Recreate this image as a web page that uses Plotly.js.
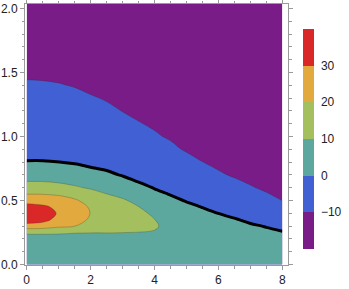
<!DOCTYPE html>
<html><head><meta charset="utf-8">
<script src="https://cdn.plot.ly/plotly-3.0.1.min.js"></script>
<style>html,body{margin:0;padding:0;background:#fff}</style>
</head><body><div id="chart" style="width:349px;height:289px"></div>
<script>
// grid positions
const xVals = [0, 0.5, 1, 1.5, 2, 2.5, 3, 3.5, 4, 4.5, 5, 5.5, 6, 6.5, 7, 7.5, 8];
const yVals = [0, 0.1, 0.2, 0.25, 0.3, 0.35, 0.4, 0.45, 0.5, 0.55, 0.6, 0.65, 0.7, 0.8, 0.9, 1.0, 1.2, 1.4, 1.6, 1.8, 2.05];
// z values, one column per x value (y from bottom to top)
const zX0   = [6, 7, 8.5, 10.6, 26.3, 35.5, 38, 34, 26, 19.9, 15, 9.9, 7, 0.6, -5, -6.5, -8.3, -9.75, -10.9, -11.8, -12.5];
const zX0_5 = [6, 7, 8.5, 10.6, 25.5, 33, 35.5, 32, 25, 19.8, 14.5, 9.8, 6.8, 0.6, -5, -6.5, -8.3, -9.8, -10.9, -11.9, -12.6];
const zX1   = [6, 7, 8.5, 10.5, 22, 27, 29, 27.5, 23.5, 19, 13.5, 8.8, 6, 0.1, -5.2, -6.8, -8.6, -9.9, -11, -12, -12.7];
const zX1_5 = [6, 7, 8.5, 10.2, 20.1, 23, 24.5, 23.5, 21, 17, 11.2, 7.5, 5, -0.8, -5.5, -7, -8.9, -10.1, -11.2, -12.1, -12.8];
const zX2   = [6, 7, 8.5, 10.1, 17, 19, 19.8, 19.2, 17, 13.5, 9, 6, 3.5, -2.3, -6, -7.5, -9.3, -10.4, -11.4, -12.3, -12.9];
const zX2_5 = [6, 7, 8.5, 10.1, 14.5, 16.2, 16.4, 15.2, 13, 10.1, 7, 4.5, 1.8, -3.5, -6.5, -8, -9.6, -10.7, -11.6, -12.4, -13];
const zX3   = [6, 7, 8.5, 10.05, 12.8, 14, 13.8, 12.6, 10.8, 8.3, 5.6, 3, -0.6, -4.8, -7.2, -8.6, -10.05, -11, -11.8, -12.5, -13.1];
const zX3_5 = [6, 7, 8.5, 9.9, 11.8, 12.3, 11.7, 10.1, 8.2, 6, 3.5, -0.5, -2.6, -6, -8, -9.1, -10.6, -11.4, -12.1, -12.7, -13.2];
const zX4   = [6, 7, 8.4, 9.6, 10.7, 10.1, 8.8, 7, 5, 2.6, -0.6, -2.6, -4.2, -7, -8.8, -9.7, -11, -11.8, -12.4, -12.9, -13.3];
const zX4_5 = [5.8, 6.6, 7.6, 8, 8.1, 7.6, 6.4, 4.7, 2.3, -0.5, -2.6, -4.2, -5.6, -7.9, -9.4, -10.3, -11.5, -12.2, -12.7, -13.1, -13.4];
const zX5   = [5.5, 6.1, 6.6, 6.7, 6.5, 5.8, 4.4, 2.3, -0.6, -2.8, -4.4, -5.8, -7, -9, -10.3, -11, -12, -12.6, -13, -13.3, -13.5];
const zX5_5 = [5.1, 5.5, 5.7, 5.5, 5.0, 4.0, 2.3, -0.3, -2.4, -4.2, -5.6, -6.9, -8.1, -9.95, -11.3, -11.8, -12.6, -13, -13.3, -13.5, -13.6];
const zX6   = [4.6, 4.8, 4.6, 4.2, 3.3, 1.9, -0.1, -2.1, -3.9, -5.4, -6.7, -7.9, -9.3, -11.2, -12, -12.5, -13, -13.3, -13.5, -13.6, -13.7];
const zX6_5 = [4.2, 4.3, 3.8, 3.2, 2.1, 0.5, -1.6, -3.5, -5.1, -6.6, -8.0, -9.3, -10.6, -12, -12.6, -13, -13.4, -13.6, -13.7, -13.8, -13.9];
const zX7   = [3.8, 3.7, 3, 2.1, 0.8, -1.2, -3.1, -4.8, -6.3, -7.7, -9.5, -10.7, -11.6, -12.6, -13.1, -13.4, -13.7, -13.8, -13.9, -14, -14];
const zX7_5 = [3.5, 3.2, 2.1, 1.2, -0.3, -2.3, -4.3, -6.2, -8.0, -9.6, -11.0, -11.9, -12.5, -13.2, -13.6, -13.8, -14, -14.1, -14.1, -14.2, -14.2];
const zX8   = [3.2, 2.6, 1.2, 0.3, -1.3, -3.4, -5.6, -7.8, -10.1, -11.4, -12.3, -12.9, -13.3, -13.8, -14, -14.1, -14.2, -14.3, -14.3, -14.4, -14.4];
const zColumns = [zX0, zX0_5, zX1, zX1_5, zX2, zX2_5, zX3, zX3_5, zX4, zX4_5, zX5, zX5_5, zX6, zX6_5, zX7, zX7_5, zX8];

// contour levels and legend scale
const levelStart = -10, levelEnd = 30, levelStep = 10;
const bandColors = ['#7a1c87', '#4060d4', '#5da89e', '#a3bf5e', '#e2a93e', '#da2828'];
const colorbarTicks = [-10, 0, 10, 20, 30];
const colorbarRange = [-20, 40];

const colorscale = bandColors.map((c, i) => [i / (bandColors.length - 1), c]);
const stepScale = [];
bandColors.forEach((c, i) => {
  stepScale.push([i / bandColors.length, c]);
  stepScale.push([(i + 1) / bandColors.length, c]);
});
const font = {family: 'Liberation Sans, Arial, sans-serif', size: 12, color: '#222'};

const fillTrace = {
  type: 'contour', x: xVals, y: yVals, z: zColumns, transpose: true,
  colorscale: colorscale,
  contours: {start: levelStart, end: levelEnd, size: levelStep, coloring: 'fill', showlines: true},
  line: {color: 'rgba(40,40,40,0.35)', width: 0.7, smoothing: 1},
  showscale: false,
  hoverinfo: 'skip'
};
const zeroTrace = {
  type: 'contour', x: xVals, y: yVals, z: zColumns, transpose: true,
  contours: {start: 0, end: 0, size: 1, coloring: 'none'},
  line: {color: '#000', width: 3, smoothing: 1},
  showscale: false, hoverinfo: 'skip'
};
// carries the banded colour bar only (no visible marks)
const scaleTrace = {
  type: 'scatter', mode: 'markers', x: [null, null], y: [null, null],
  marker: {
    color: colorbarRange, cmin: colorbarRange[0], cmax: colorbarRange[1],
    colorscale: stepScale, showscale: true,
    colorbar: {
      x: 1.057, xanchor: 'left', y: 0.483, yanchor: 'middle',
      len: 0.843, lenmode: 'fraction', thickness: 11, thicknessmode: 'pixels',
      xpad: 0, ypad: 0, outlinewidth: 0,
      tickvals: colorbarTicks, ticks: 'outside', ticklen: 5, tickcolor: 'rgba(0,0,0,0)',
      tickfont: font
    }
  },
  hoverinfo: 'skip'
};

const axisCommon = {
  showline: true, linecolor: '#9a9a9a', linewidth: 1, mirror: 'allticks',
  ticks: 'outside', ticklen: 4, tickcolor: '#9a9a9a', tickwidth: 1,
  showgrid: false, zeroline: false, tickfont: font
};

const layout = {
  width: 349, height: 289,
  margin: {l: 25, r: 61, t: 4, b: 24},
  paper_bgcolor: '#fff', plot_bgcolor: '#fff',
  font: font,
  xaxis: Object.assign({}, axisCommon, {
    range: [-0.053, 8.178], tickvals: [0, 2, 4, 6, 8],
    minor: {dtick: 0.5, ticks: 'outside', ticklen: 2.5, tickcolor: '#9a9a9a'}
  }),
  yaxis: Object.assign({}, axisCommon, {
    range: [-0.004, 2.035], tickvals: [0, 0.5, 1, 1.5, 2], tickformat: '.1f',
    minor: {dtick: 0.1, ticks: 'outside', ticklen: 2.5, tickcolor: '#9a9a9a'}
  }),
  showlegend: false
};

Plotly.newPlot('chart', [fillTrace, zeroTrace, scaleTrace], layout, {displayModeBar: false, staticPlot: true});
</script></body></html>
